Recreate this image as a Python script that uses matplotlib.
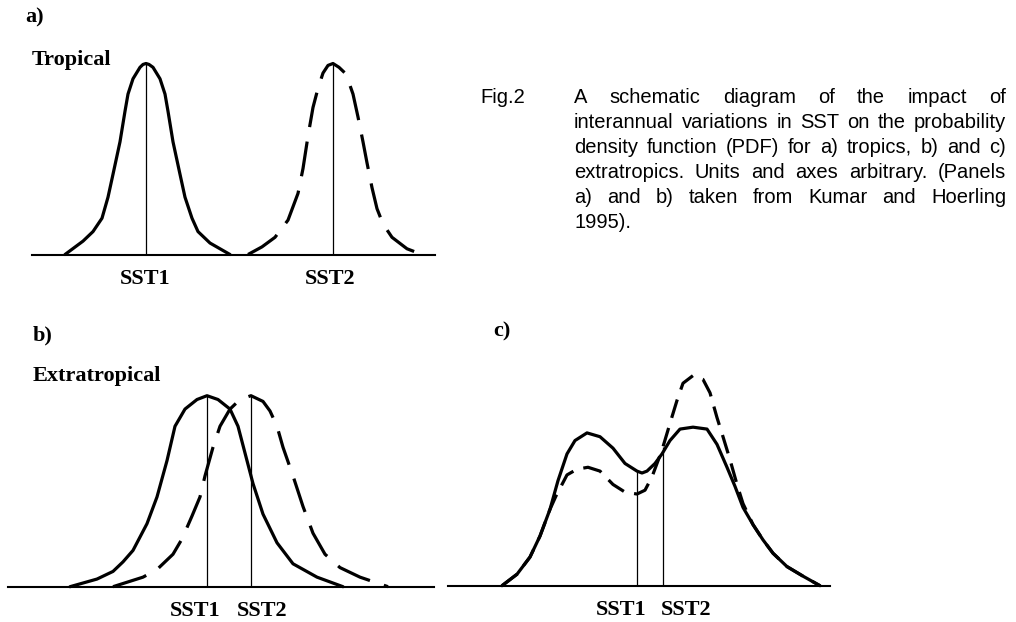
import matplotlib
matplotlib.use("Agg")
import matplotlib.pyplot as plt
import numpy as np

plt.rcParams['font.family'] = ['Liberation Serif', 'DejaVu Serif']

W, H, DPI = 1016, 622, 100

# ---- data (x in arbitrary units, density normalised to the tropical peak) ----
# a) tropical
a_x_sst1 = [3.3, 5.1, 6.1, 7.0, 7.6, 8.1, 8.8, 9.3, 9.6, 10.1, 10.8, 11.1, 11.4,
            11.7, 12.1, 12.8, 13.3, 13.6, 14.1, 14.8, 15.3, 16.0, 16.6, 17.8, 19.8]
a_pdf_sst1 = [0, .07, .12, .19, .30, .42, .59, .75, .84, .92, .98, .995, 1.0,
              .995, .98, .92, .84, .75, .59, .42, .30, .19, .12, .06, 0]
a_x_sst2 = [21.6, 23.0, 24.3, 25.6, 26.1, 26.6, 27.1, 27.6, 28.1, 28.6, 29.1, 29.6, 30.1,
            30.7, 31.3, 31.7, 32.1, 32.6, 33.1, 33.5, 34.0, 34.5, 35.1, 36.0, 37.5, 39.0]
a_pdf_sst2 = [0, .04, .09, .18, .25, .32, .45, .62, .77, .87, .95, .99, 1.0,
              .98, .95, .90, .84, .72, .59, .48, .35, .24, .16, .09, .03, 0]
a_sst = [11.4, 30.1]

# b) extratropical
b_x_sst1 = [6.2, 8.9, 10.5, 11.5, 12.5, 13.9, 14.9, 15.9, 16.7, 17.7, 18.9, 19.9,
            21.0, 22.2, 23.0, 23.9, 24.5, 25.5, 26.9, 28.5, 30.9, 33.5]
b_pdf_sst1 = [0, .04, .08, .13, .19, .33, .47, .66, .84, .93, .98, 1.0,
              .98, .93, .84, .66, .54, .38, .23, .12, .05, 0]
b_x_sst2 = [10.5, 13.5, 14.9, 16.5, 17.4, 18.4, 19.2, 19.7, 20.5, 21.2, 22.2, 23.2, 24.3,
            25.5, 26.2, 26.9, 27.5, 28.5, 29.5, 30.5, 31.7, 33.2, 35.2, 38.0]
b_pdf_sst2 = [0, .05, .09, .17, .25, .37, .47, .58, .73, .84, .93, .98, 1.0,
              .97, .92, .84, .73, .58, .42, .28, .17, .10, .05, 0]
b_sst = [19.9, 24.3]

# c) extratropical, bimodal
c_x_sst1 = [5.4, 6.9, 8.2, 9.2, 10.2, 11.0, 11.9, 12.7, 13.9, 15.2, 16.5, 17.7, 18.9,
            19.4, 19.9, 20.7, 21.4, 22.2, 23.2, 24.5, 25.9, 26.9, 27.9, 28.7, 29.5,
            30.5, 31.5, 32.5, 33.9, 35.5, 37.2]
c_pdf_sst1 = [0, .06, .15, .26, .40, .55, .69, .76, .80, .78, .72, .64, .60,
              .59, .60, .64, .69, .76, .82, .83, .82, .74, .62, .52, .41,
              .32, .24, .17, .10, .05, 0]
c_x_sst2 = [5.4, 6.9, 8.2, 9.2, 10.2, 10.8, 11.4, 11.9, 12.9, 14.0, 15.2, 16.5, 17.7,
            18.9, 19.7, 20.4, 20.9, 21.4, 22.2, 22.9, 23.5, 24.5, 25.5, 26.2, 26.9,
            27.5, 28.2, 28.9, 29.5, 30.5, 31.5, 32.5, 33.9, 35.5, 37.2]
c_pdf_sst2 = [0, .06, .15, .26, .40, .47, .53, .58, .61, .62, .60, .53, .49,
              .48, .50, .57, .64, .71, .85, .97, 1.06, 1.10, 1.08, 1.01, .88,
              .78, .66, .53, .43, .32, .24, .17, .10, .05, 0]
c_sst = [18.9, 21.5]

sst_labels = ["SST1", "SST2"]

caption = ["A schematic diagram of the impact of",
           "interannual variations in SST on the probability",
           "density function (PDF) for a) tropics, b) and c)",
           "extratropics. Units and axes arbitrary. (Panels",
           "a) and b) taken from Kumar and Hoerling",
           "1995)."]

# ---- layout ----
fig = plt.figure(figsize=(W / DPI, H / DPI), dpi=DPI)
fig.patch.set_facecolor("white")

UNIT_PX = 191.0  # pixels for density 1.0
YMAX = 1.2


def make_panel(left, right, baseline):
    rect = [left / W, (H - baseline) / H, (right - left) / W, YMAX * UNIT_PX / H]
    ax = fig.add_axes(rect)
    ax.set_xlim(0, (right - left) / 10)
    ax.set_ylim(0, YMAX)
    for s in ["top", "left", "right"]:
        ax.spines[s].set_visible(False)
    ax.spines["bottom"].set_linewidth(1.5)
    ax.set_xticks([])
    ax.set_yticks([])
    ax.patch.set_alpha(0)
    return ax


def draw(ax, xs1, ys1, xs2, ys2, sst, label_x, dash):
    ax.plot(xs1, ys1, color="black", lw=2.3, solid_joinstyle="round",
            solid_capstyle="round", clip_on=False)
    ax.plot(xs2, ys2, color="black", lw=2.3, dashes=dash,
            dash_capstyle="butt", clip_on=False)
    tops = [np.interp(sst[0], xs1, ys1), np.interp(sst[1], xs2, ys2)]
    ax.vlines(sst, 0, tops, color="black", lw=0.9)
    for lx, lab in zip(label_x, sst_labels):
        ax.annotate(lab, xy=(lx, 0), xytext=(0, -21), textcoords="offset points",
                    ha="center", va="baseline", fontsize=16, fontweight="bold",
                    annotation_clip=False)


ax_a = make_panel(32, 435, 254.5)
draw(ax_a, a_x_sst1, a_pdf_sst1, a_x_sst2, a_pdf_sst2, a_sst, [11.3, 29.8], (11, 4.6))

ax_b = make_panel(8, 434, 586.7)
draw(ax_b, b_x_sst1, b_pdf_sst1, b_x_sst2, b_pdf_sst2, b_sst, [18.7, 25.4], (11, 4.6))

ax_c = make_panel(448, 830, 585.7)
draw(ax_c, c_x_sst1, c_pdf_sst1, c_x_sst2, c_pdf_sst2, c_sst, [17.3, 23.8], (6, 3.3))


def ftext(x, y, s, **kw):
    return fig.text(x / W, 1 - y / H, s, va="baseline", **kw)


bold = dict(fontsize=16, fontweight="bold")
ftext(25, 22, "a)", **bold)
ftext(32, 65, "Tropical", **bold)
ftext(33, 340, "b)", **bold)
ftext(33, 381, "Extratropical", **bold)
ftext(493, 336, "c)", **bold)

# caption, justified between two edges
sans = dict(fontsize=14.5, family=["Liberation Sans", "DejaVu Sans"])
ftext(480, 103, "Fig.2", **sans)
x0, x1, y0, dy = 574, 1006, 103, 25
renderer = fig.canvas.get_renderer()
for i, line in enumerate(caption):
    y = y0 + i * dy
    words = line.split()
    if i == len(caption) - 1:
        ftext(x0, y, line, **sans)
        continue
    objs = [ftext(0, y, w, **sans) for w in words]
    widths = [o.get_window_extent(renderer).width for o in objs]
    gap = (x1 - x0 - sum(widths)) / (len(words) - 1)
    x = x0
    for o, w in zip(objs, widths):
        o.set_x(x / W)
        x += w + gap

fig.savefig("out.png", dpi=DPI, facecolor="white")
